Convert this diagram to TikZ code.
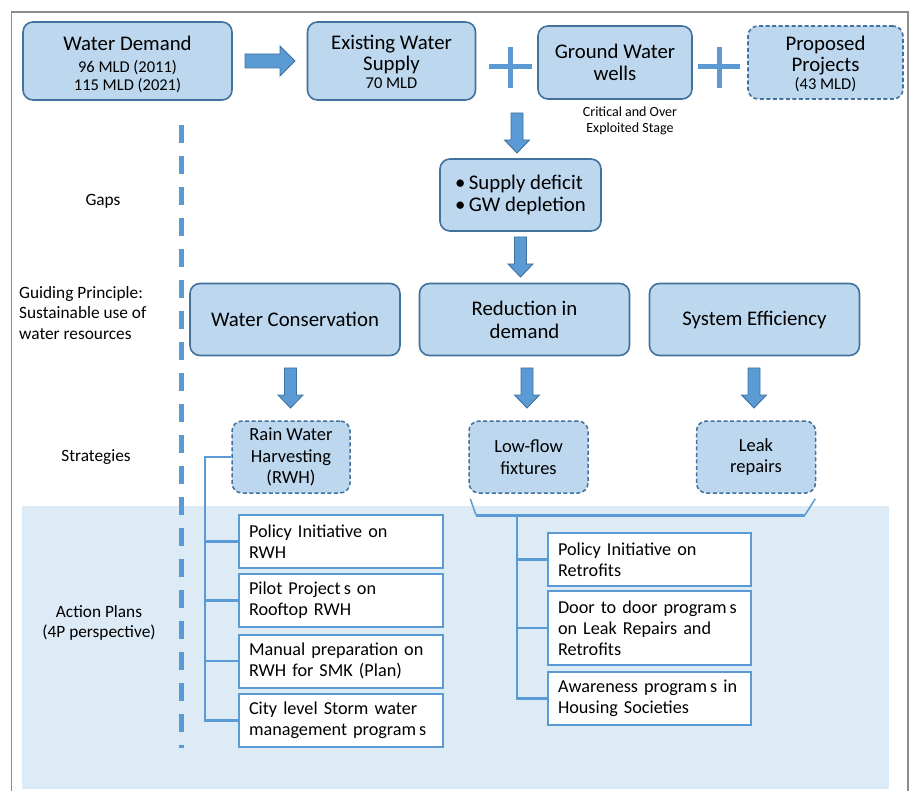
\documentclass[tikz,border=0pt]{standalone}
\usepackage{fontspec}
\setmainfont{Carlito}
\usetikzlibrary{calc}
\definecolor{boxfill}{HTML}{BDD7EE}
\definecolor{boxline}{HTML}{41719C}
\definecolor{accent}{HTML}{5B9BD5}
\definecolor{bgblue}{HTML}{DDEBF7}
\definecolor{framegray}{HTML}{8C8C8C}
\newcommand{\blockdown}[3]{%
  \fill[accent,draw=boxline,line width=0.9pt] (#1-6,#2) -- (#1+6,#2) -- (#1+6,#3-13) -- (#1+12.5,#3-13) -- (#1,#3) -- (#1-12.5,#3-13) -- (#1-6,#3-13) -- cycle;}
\newcommand{\fsbig}{\fontsize{20.8}{22}\selectfont}
\newcommand{\fssmall}{\fontsize{16.5}{18}\selectfont}
\begin{document}
\begin{tikzpicture}[x=1pt,y=-1pt,
  mainbox/.style={draw=boxline,fill=boxfill,line width=1.6pt,rounded corners=10pt,align=center,font=\fsbig,inner sep=2pt},
  dashbox/.style={mainbox,dashed,dash pattern=on 4pt off 2.5pt},
  boxtext/.style={align=center,font=\fsbig,inner sep=0pt},
  stratbox/.style={draw=boxline,fill=boxfill,line width=1.5pt,rounded corners=10pt,dashed,dash pattern=on 4pt off 2.5pt,align=center,font=\fontsize{18.5}{21.5}\selectfont,inner sep=2pt},
  actbox/.style={draw=accent,fill=white,line width=2pt,inner xsep=10pt,inner ysep=0pt,align=left,font=\fontsize{18.2}{21}\selectfont},
  tree/.style={draw=accent,line width=2.5pt},
  sidelabel/.style={font=\fontsize{17.3}{20.5}\selectfont,inner sep=0pt},
  plussign/.style={draw=accent,line width=5pt}
]
\useasboundingbox (0,0) rectangle (910,791);
% frame
\draw[framegray,line width=1.5pt] (11.5,791) -- (11.5,12) -- (908,12) -- (908,791);
% background of action plans
\fill[bgblue] (22,506) rectangle (889,789);
% dashed divider
\draw[accent,line width=5pt,dash pattern=on 18pt off 13pt] (181,125) -- (181,748);

% top row
\node[mainbox,minimum width=209pt,minimum height=78pt] (wd) at (127.5,61) {};
\node[boxtext] (wdt) at ([yshift=-3pt]wd.center)
  {Water Demand\\{\fssmall 96 MLD (2011)}\\[-4pt]{\fssmall 115 MLD (2021)}};
\node[mainbox,minimum width=168pt,minimum height=78pt] (ews) at (391.5,61) {};
\node[boxtext] (ewst) at ([yshift=-1pt]ews.center)
  {Existing Water\\[-1pt]Supply\\[-4pt]{\fssmall 70 MLD}};
\node[mainbox,minimum width=154pt,minimum height=73pt] (gw) at (615,62.5)
  {Ground Water\\wells};
\node[dashbox,minimum width=155pt,minimum height=73pt] (pp) at (825.5,62.5) {};
\node[boxtext] (ppt) at ([yshift=-1pt]pp.center)
  {Proposed\\[-1pt]Projects\\[-4pt]{\fssmall (43 MLD)}};
\node[font=\fontsize{14}{16}\selectfont,align=center,inner sep=0pt] (crit) at (630,121)
  {Critical and Over\\Exploited Stage};

% right arrow
\fill[accent,draw=boxline,line width=0.9pt] (245,54) -- (280,54) -- (280,46) -- (295,61) -- (280,76) -- (280,68) -- (245,68) -- cycle;
% plus signs
\draw[plussign] (489,67) -- (532,67) (510.5,47) -- (510.5,88);
\draw[plussign] (698,67) -- (740,67) (719,47) -- (719,88);

% gaps
\blockdown{517}{113}{153}
\node[mainbox,minimum width=161pt,minimum height=72pt,align=left] (gaps) at (520.5,195)
  {\textbullet\,Supply deficit\\\textbullet\,GW depletion};
\blockdown{520.5}{237}{277}

% principles
\node[mainbox,minimum width=210pt,minimum height=72pt] (wc) at (295,319.5) {Water Conservation};
\node[mainbox,minimum width=210pt,minimum height=72pt] (rd) at (524.5,319.5) {Reduction in\\[1pt]demand};
\node[mainbox,minimum width=210pt,minimum height=72pt] (se) at (754.5,319.5) {System Efficiency};

\blockdown{290.5}{368}{408}
\blockdown{527}{368}{408}
\blockdown{754}{368}{408}

% strategies
\node[stratbox,minimum width=118pt,minimum height=72pt] (rwh) at (291,457) {Rain Water\\Harvesting\\(RWH)};
\node[stratbox,minimum width=119pt,minimum height=72pt] (lf) at (528.5,457) {Low-flow\\fixtures};
\node[stratbox,minimum width=119pt,minimum height=72pt] (lr) at (756,457) {Leak\\repairs};

% side labels
\node[sidelabel] (lgaps) at (103,201) {Gaps};
\node[sidelabel,anchor=west,align=left] (lguide) at (19,313) {Guiding Principle:\\Sustainable use of\\water resources};
\node[sidelabel] (lstrat) at (96,457) {Strategies};
\node[sidelabel,align=center] (lact) at (99,623) {Action Plans\\(4P perspective)};

% action plans left
\node[actbox,text width=184pt,minimum height=53pt] (a1) at (341,541.5) {Policy Initiative on\\RWH};
\node[actbox,text width=184pt,minimum height=53pt] (a2) at (341,600.5) {Pilot Project\,s on\\Rooftop RWH};
\node[actbox,text width=184pt,minimum height=53pt] (a3) at (341,661) {Manual preparation on\\RWH for SMK (Plan)};
\node[actbox,text width=184pt,minimum height=53pt] (a4) at (341,720.5) {City level Storm water\\management program\,s};
\coordinate (lt) at (205,457);
\draw[tree] (rwh.west) -- (lt) |- (a4.west);
\draw[tree] (lt) |- (a1.west);
\draw[tree] (lt) |- (a2.west);
\draw[tree] (lt) |- (a3.west);

% action plans right
\node[actbox,text width=183pt,minimum height=53pt] (b1) at (649.5,559.5) {Policy Initiative on\\Retrofits};
\node[actbox,text width=183pt,minimum height=74pt] (b2) at (649.5,628) {Door to door program\,s\\on Leak Repairs and\\Retrofits};
\node[actbox,text width=183pt,minimum height=53pt] (b3) at (649.5,698.5) {Awareness program\,s in\\Housing Societies};
\coordinate (bl) at ($(lf.south west)+(2,5)$);
\coordinate (br) at ($(lr.south east)+(-1,5)$);
\coordinate (bstem) at (517,515);
\draw[accent,line width=1.5pt] (bl) -- (476,515);
\draw[accent,line width=1.5pt] (br) -- (805,515);
\draw[accent,line width=3pt] (476,515) -- (805,515);
\draw[tree] (bstem) |- (b3.west);
\draw[tree] (bstem) |- (b1.west);
\draw[tree] (bstem) |- (b2.west);
\end{tikzpicture}
\end{document}
